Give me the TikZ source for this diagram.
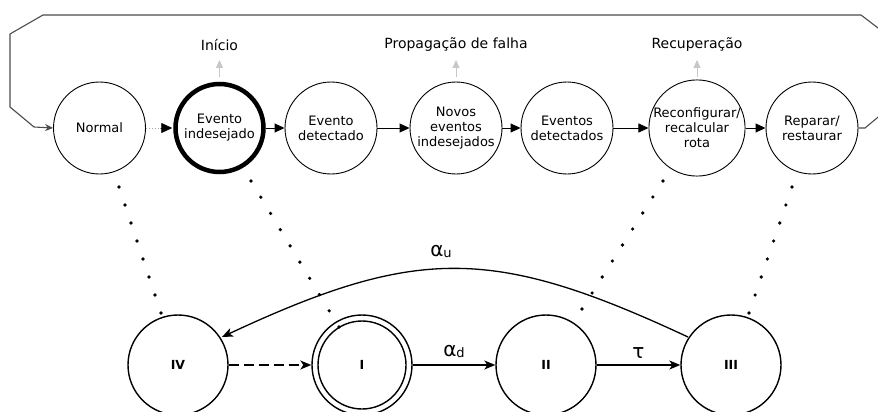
\documentclass[tikz,border=0pt]{standalone}
\usepackage{fontspec}
\setmainfont{DejaVu Sans}
\usetikzlibrary{arrows.meta,calc}
\begin{document}
\begin{tikzpicture}[x=1pt,y=-1pt,
  every node/.style={font=\fontsize{13}{15}\selectfont},
  topc/.style={circle,draw,line width=0.9pt,minimum size=92pt,inner sep=0pt,align=center},
  botc/.style={circle,draw,line width=1.4pt,minimum size=100pt,inner sep=0pt,font=\fontsize{12.5}{14}\selectfont\bfseries},
  tarr/.style={line width=0.9pt,-{Triangle[length=10pt,width=9pt]}},
  barr/.style={line width=1.3pt,-{Stealth[length=11pt,width=9pt,inset=3pt]}},
  garr/.style={draw=black!22,line width=0.8pt,-{Triangle[length=8pt,width=7pt]}},
  loopl/.style={draw=black!70,line width=1.1pt},
  dotc/.style={fill=black},
  lbl/.style={font=\fontsize{14}{16}\selectfont}
]
\useasboundingbox (0,0) rectangle (878,412);
\begin{scope}
\clip (0,0) rectangle (878,412);
% top row
\node[topc] (normal) at (99.5,128) {Normal};
\node[topc,line width=4.5pt,minimum size=88pt] (evind) at (219.5,128) {Evento\\indesejado};
\node[topc] (evdet) at (331,128) {Evento\\detectado};
\node[topc] (novos) at (456,128) {Novos\\eventos\\indesejados};
\node[topc] (evsdet) at (567,128) {Eventos\\detectados};
\node[topc] (reconf) at (697,128) {Reconfigurar/\\recalcular\\rota};
\node[topc] (reparar) at (812,128) {Reparar/\\restaurar};

% labels above
\node[lbl] (linicio) at (219.5,45) {Início};
\node[lbl] (lprop) at (456,45) {Propagação de falha};
\node[lbl] (lrec) at (697,45) {Recuperação};
\coordinate (g1) at (219.5,77); \coordinate (g1t) at (219.5,60);
\coordinate (g2) at (456,77); \coordinate (g2t) at (456,60);
\coordinate (g3) at (697,77); \coordinate (g3t) at (697,60);
\draw[garr] (g1) -- (g1t);
\draw[garr] (g2) -- (g2t);
\draw[garr] (g3) -- (g3t);

% top arrows
\draw[line width=0.9pt,draw=black!35,dotted] (normal.east) -- ($(evind.west)+(-12,0)$);
\draw[line width=0.9pt,-{Triangle[length=11pt,width=10pt]}] ($(evind.west)+(-12,0)$) -- ($(evind.west)+(-1,0)$);
\draw[tarr] (evind) -- (evdet);
\draw[tarr] (evdet) -- (novos);
\draw[tarr] (novos) -- (evsdet);
\draw[tarr] (evsdet) -- (reconf);
\draw[tarr] (reconf) -- (reparar);

% loop line
\coordinate (la) at (34,127);
\coordinate (lb) at (10,107);
\coordinate (lc) at (10,34);
\coordinate (ld) at (43,15);
\coordinate (le) at (861,15);
\coordinate (lf) at (895,41);
\coordinate (rg) at (865,128);
\coordinate (rh) at (895,103);
\draw[loopl] (le) -- (ld) -- (lc) -- (lb) -- (la);
\draw[loopl,-{Stealth[length=8pt,width=7pt,inset=2.5pt]}] (la) -- (normal.west);
\draw[loopl] (le) -- (lf);
\draw[loopl] (reparar.east) -- (rg) -- (rh);

% bottom row
\node[botc] (IV) at (178,365) {IV};
\node[botc] (I) at (362,365) {I};
\node[botc] (II) at (546,365) {II};
\node[botc] (III) at (731,365) {III};
\draw[line width=1.4pt] (I.center) circle (44);

\draw[barr,dashed,dash pattern=on 10pt off 5pt] (IV) -- (I);
\draw[barr] (I) -- node[above=3pt,font=\fontsize{20}{20}\selectfont] (ad) {α\raisebox{-1pt}{\fontsize{13}{13}\selectfont d}} (II);
\draw[barr] (II) -- node[above=3pt,font=\fontsize{20}{20}\selectfont] (tau) {τ} (III);
\coordinate (aus) at (688,337);
\coordinate (aue) at (222,337);
\draw[barr] (aus) .. controls (493,246) and (417,246) .. (aue);
\node[font=\fontsize{20}{20}\selectfont] (au) at (441,251) {α\raisebox{-1pt}{\fontsize{13}{13}\selectfont u}};

% dotted connectors
\coordinate (d1s) at (119,187); \coordinate (d1e) at (161,313);
\coordinate (d2s) at (251,181); \coordinate (d2e) at (339,327);
\coordinate (d3s) at (663,181); \coordinate (d3e) at (582,309);
\coordinate (d4s) at (792,187); \coordinate (d4e) at (749,313);
\foreach \i in {0,...,7}{\fill[dotc] ($(d1s)!\i/7!(d1e)$) circle (1.8);}
\foreach \i in {0,...,9}{\fill[dotc] ($(d2s)!\i/9!(d2e)$) circle (1.8);}
\foreach \i in {0,...,8}{\fill[dotc] ($(d3s)!\i/8!(d3e)$) circle (1.8);}
\foreach \i in {0,...,7}{\fill[dotc] ($(d4s)!\i/7!(d4e)$) circle (1.8);}
\end{scope}
\end{tikzpicture}
\end{document}
